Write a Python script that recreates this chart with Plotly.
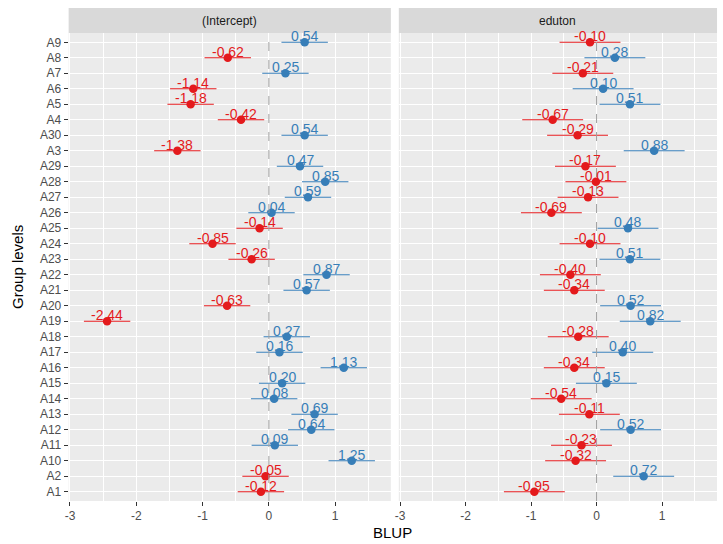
import plotly.graph_objects as go

# ---- data ----
groups_top_to_bottom = ["A9", "A8", "A7", "A6", "A5", "A4", "A30", "A3", "A29", "A28",
                        "A27", "A26", "A25", "A24", "A23", "A22", "A21", "A20", "A19", "A18",
                        "A17", "A16", "A15", "A14", "A13", "A12", "A11", "A10", "A2", "A1"]
intercept_blup = [0.54, -0.62, 0.25, -1.14, -1.18, -0.42, 0.54, -1.38, 0.47, 0.85,
                  0.59, 0.04, -0.14, -0.85, -0.26, 0.87, 0.57, -0.63, -2.44, 0.27,
                  0.16, 1.13, 0.20, 0.08, 0.69, 0.64, 0.09, 1.25, -0.05, -0.12]
eduton_blup = [-0.10, 0.28, -0.21, 0.10, 0.51, -0.67, -0.29, 0.88, -0.17, -0.01,
               -0.13, -0.69, 0.48, -0.10, 0.51, -0.40, -0.34, 0.52, 0.82, -0.28,
               0.40, -0.34, 0.15, -0.54, -0.11, 0.52, -0.23, -0.32, 0.72, -0.95]
intercept_ci_half = 0.35
eduton_ci_half = 0.465
panel_titles = ["(Intercept)", "eduton"]
x_ticks = [-3, -2, -1, 0, 1]

RED = "#E41A1C"
BLUE = "#377EB8"
FONT = "Liberation Sans, Arial, sans-serif"

W, H = 723, 544
def fx(px): return px / W
def fy(py): return 1 - py / H

panel_top, panel_bot = 33, 501
strip_top = 8
x_domains = [[fx(65), fx(389)], [fx(397), fx(717)]]

fig = go.Figure()
annotations = []
for k, (vals, hw) in enumerate([(intercept_blup, intercept_ci_half), (eduton_blup, eduton_ci_half)]):
    xa = "x" if k == 0 else "x2"
    ya = "y" if k == 0 else "y2"
    for sign, col in [(-1, RED), (1, BLUE)]:
        xs = [v for v in vals if (v < 0) == (sign < 0)]
        ys = [g for g, v in zip(groups_top_to_bottom, vals) if (v < 0) == (sign < 0)]
        fig.add_trace(go.Scatter(
            x=xs, y=ys, mode="markers", xaxis=xa, yaxis=ya,
            marker=dict(color=col, size=8.5, line=dict(width=0)),
            error_x=dict(type="constant", value=hw, color=col, thickness=1.1, width=0),
            showlegend=False, hoverinfo="x+y"))
        for xv, yv in zip(xs, ys):
            annotations.append(dict(
                x=xv, y=yv, xref=xa, yref=ya, text=f"{xv:.2f}", showarrow=False,
                xanchor="center", yanchor="middle", yshift=6,
                font=dict(color=col, size=14, family=FONT)))

axis_common = dict(
    range=[-3.02, 1.84], tickvals=x_ticks, ticktext=[str(t) for t in x_ticks],
    showgrid=True, gridcolor="white", gridwidth=1.1,
    minor=dict(dtick=0.5, tick0=0, showgrid=True, gridcolor="white", gridwidth=0.5),
    zeroline=False, ticks="outside", ticklen=4, tickcolor="#333333", tickwidth=1,
    tickfont=dict(size=12, color="#4D4D4D", family=FONT), showline=False)

cat_order = list(reversed(groups_top_to_bottom))
y_domain = [fy(panel_bot), fy(panel_top)]
y_range = [-0.6, len(cat_order) - 0.4]

fig.update_layout(
    width=W, height=H, margin=dict(l=0, r=0, t=0, b=0),
    paper_bgcolor="white", plot_bgcolor="#EBEBEB",
    font=dict(family=FONT),
    xaxis=dict(domain=x_domains[0], anchor="y", **axis_common),
    xaxis2=dict(domain=x_domains[1], anchor="y2", **axis_common),
    yaxis=dict(anchor="x", type="category", categoryorder="array", categoryarray=cat_order,
               range=y_range, domain=y_domain,
               showgrid=True, gridcolor="white", gridwidth=1.1, zeroline=False,
               ticks="outside", ticklen=4, tickcolor="#333333", tickwidth=1,
               tickfont=dict(size=12, color="#4D4D4D", family=FONT)),
    yaxis2=dict(anchor="x2", type="category", categoryorder="array", categoryarray=cat_order,
                range=y_range, domain=y_domain, showticklabels=False, ticks="",
                showgrid=True, gridcolor="white", gridwidth=1.1, zeroline=False),
)

shapes = []
for k, title in enumerate(panel_titles):
    xr = "x domain" if k == 0 else "x2 domain"
    xd = "x" if k == 0 else "x2"
    yd = "y domain" if k == 0 else "y2 domain"
    shapes.append(dict(type="rect", xref=xr, yref="paper", x0=0, x1=1,
                       y0=fy(panel_top), y1=fy(strip_top),
                       fillcolor="#D9D9D9", line=dict(width=0), layer="above"))
    shapes.append(dict(type="line", xref=xd, yref=yd, x0=0, x1=0, y0=0, y1=1,
                       line=dict(color="#A0A0A0", width=1, dash="dash"), layer="above"))
    annotations.append(dict(text=title, xref=xr, yref="paper", x=0.5,
                            y=fy((panel_top + strip_top) / 2), showarrow=False,
                            font=dict(size=12, color="#1A1A1A", family=FONT),
                            xanchor="center", yanchor="middle"))

annotations.append(dict(text="BLUP", xref="paper", yref="paper", x=fx(391), y=fy(532),
                        showarrow=False, font=dict(size=15, color="black", family=FONT),
                        xanchor="center", yanchor="middle"))
annotations.append(dict(text="Group levels", xref="paper", yref="paper", x=fx(14),
                        y=fy((panel_top + panel_bot) / 2), textangle=-90, showarrow=False,
                        font=dict(size=15, color="black", family=FONT),
                        xanchor="center", yanchor="middle"))
fig.update_layout(shapes=shapes, annotations=annotations)

fig.write_html("out.html", config={"displayModeBar": False},
               post_script="document.body.style.margin='0';")
